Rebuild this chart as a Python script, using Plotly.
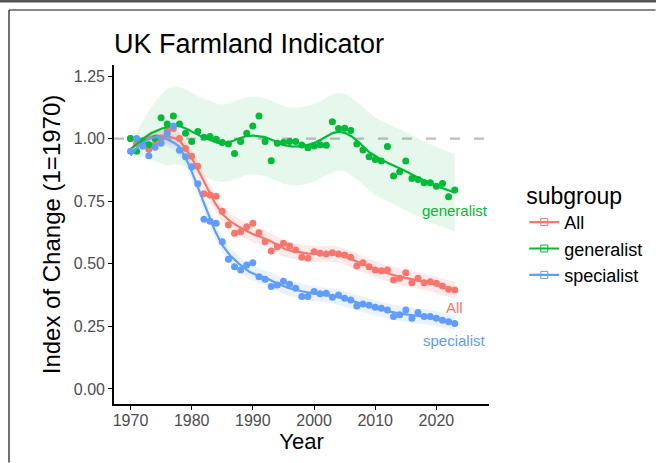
import numpy as np
import plotly.graph_objects as go

# ---------------- data ----------------
years = list(range(1970, 2024))

all_index = [1.00, 0.98, 0.97, 0.957, 0.975, 1.00, 1.03, 1.04, 1.00, 0.96,
             0.93, 0.89, 0.78, 0.775, 0.77, 0.71, 0.655, 0.622, 0.628, 0.648,
             0.662, 0.624, 0.588, 0.551, 0.568, 0.582, 0.571, 0.555, 0.526, 0.522,
             0.548, 0.542, 0.539, 0.544, 0.539, 0.535, 0.526, 0.491, 0.504, 0.488,
             0.475, 0.472, 0.475, 0.435, 0.442, 0.464, 0.424, 0.442, 0.424, 0.428,
             0.422, 0.411, 0.398, 0.395]

generalist_index = [1.00, 0.95, 0.99, 0.975, 1.00, 1.083, 1.058, 1.09, 1.058, 1.021,
                    0.988, 1.028, 1.005, 1.008, 0.997, 0.984, 0.978, 0.941, 0.988, 1.021,
                    1.05, 1.09, 0.988, 0.912, 0.981, 0.984, 0.988, 0.988, 0.974, 0.963,
                    0.97, 0.975, 0.973, 1.067, 1.04, 1.041, 1.032, 0.978, 0.955, 0.928,
                    0.917, 0.911, 0.968, 0.851, 0.868, 0.911, 0.841, 0.837, 0.824, 0.824,
                    0.81, 0.821, 0.768, 0.795]

specialist_index = [0.95, 1.00, 0.97, 0.932, 0.965, 0.981, 1.02, 1.05, 0.954, 0.928,
                    0.888, 0.82, 0.678, 0.67, 0.662, 0.588, 0.518, 0.488, 0.475, 0.495,
                    0.504, 0.448, 0.438, 0.409, 0.415, 0.43, 0.418, 0.402, 0.369, 0.369,
                    0.389, 0.38, 0.382, 0.366, 0.375, 0.362, 0.355, 0.331, 0.339, 0.334,
                    0.326, 0.322, 0.315, 0.289, 0.296, 0.315, 0.282, 0.305, 0.289, 0.289,
                    0.282, 0.275, 0.269, 0.262]

subgroups = ["All", "generalist", "specialist"]
series = {"All": all_index, "generalist": generalist_index, "specialist": specialist_index}
# half-width of the confidence ribbons
ribbon_halfwidth = {"All": 0.032, "generalist": 0.155, "specialist": 0.03}
ribbon_ramp_years = 6  # ribbons open up from zero width at the 1970 baseline
reference_level = 1.0

x_ticks = [1970, 1980, 1990, 2000, 2010, 2020]
y_ticks = [0.00, 0.25, 0.50, 0.75, 1.00, 1.25]
y_ticklabels = ["0.00", "0.25", "0.50", "0.75", "1.00", "1.25"]

# ---------------- styling ----------------
colors = {"All": "#F8766D", "generalist": "#00BA38", "specialist": "#619CFF"}
fills = {"All": "rgba(248,118,109,0.15)", "generalist": "rgba(0,186,56,0.10)",
         "specialist": "rgba(97,156,255,0.13)"}
FONT = "Liberation Sans, Arial, sans-serif"

W, H = 656, 463
M = dict(l=114, r=167, t=65, b=59)
PW, PH = W - M["l"] - M["r"], H - M["t"] - M["b"]


def px_to_paper(px, py):
    return (px - M["l"]) / PW, (H - M["b"] - py) / PH


def loess(x, y, xs, span=0.3, degree=2):
    x = np.asarray(x, float)
    y = np.asarray(y, float)
    q = int(np.ceil(span * len(x)))
    out = []
    for x0 in xs:
        d = np.abs(x - x0)
        h = np.sort(d)[q - 1] * 1.0001
        w = np.clip(1 - (d / h) ** 3, 0, None) ** 3
        idx = w > 0
        coef = np.polyfit(x[idx] - x0, y[idx], degree, w=np.sqrt(w[idx]))
        out.append(np.polyval(coef, 0.0))
    return np.array(out)


xs = np.linspace(years[0], years[-1], 300)
fits = {g: loess(years, series[g], xs) for g in subgroups}

fig = go.Figure()

# ribbons
for g in subgroups:
    fit = fits[g]
    ramp = np.clip((xs - years[0]) / ribbon_ramp_years, 0, 1) ** 0.7
    hw = ribbon_halfwidth[g] * ramp
    fig.add_trace(go.Scatter(
        x=np.concatenate([xs, xs[::-1]]),
        y=np.concatenate([fit + hw, (fit - hw)[::-1]]),
        fill="toself", fillcolor=fills[g], line=dict(width=0),
        mode="lines", hoverinfo="skip", showlegend=False))

# points and smooth lines
for g in subgroups:
    fit = fits[g]
    fig.add_trace(go.Scatter(
        x=years, y=series[g], mode="markers",
        marker=dict(color=colors[g], size=7),
        showlegend=False, name=g))
    fig.add_trace(go.Scatter(
        x=xs, y=fit, mode="lines", line=dict(color=colors[g], width=2.2),
        showlegend=False, hoverinfo="skip"))
    # legend entry
    fig.add_trace(go.Scatter(
        x=[None], y=[None], mode="lines+markers", name=g,
        line=dict(color=colors[g], width=2.2),
        marker=dict(color=colors[g], size=7, symbol="square-open")))
    # end label
    fig.add_annotation(
        x=years[-1], y=fit[-1] - 0.072, text=g, showarrow=False,
        font=dict(family=FONT, size=15, color=colors[g]),
        xanchor="center", yanchor="middle")

# reference dashed line
fig.add_shape(type="line", xref="paper", yref="y", x0=0, x1=1,
              y0=reference_level, y1=reference_level,
              line=dict(color="#BEBEBE", width=2.2, dash="10px,14px"),
              layer="below")

# outer frame lines seen around the picture
x0p, y0p = px_to_paper(9, 10)
x1p, _ = px_to_paper(W - 0.5, 0)
_, y1p = px_to_paper(0, H - 0.5)
fig.add_shape(type="line", xref="paper", yref="paper", x0=x0p, y0=y0p, x1=x1p, y1=y0p,
              line=dict(color="#111111", width=1.2), layer="above")
fig.add_shape(type="line", xref="paper", yref="paper", x0=x0p, y0=y0p, x1=x0p, y1=y1p,
              line=dict(color="#111111", width=1.2), layer="above")
tx0, ty = px_to_paper(0, 1.2)
tx1, _ = px_to_paper(W, 1.2)
fig.add_shape(type="line", xref="paper", yref="paper", x0=tx0, x1=tx1, y0=ty, y1=ty,
              line=dict(color="#555555", width=2.4), layer="above")

fig.update_layout(
    width=W, height=H, margin=dict(M, autoexpand=False),
    paper_bgcolor="white", plot_bgcolor="white",
    font=dict(family=FONT, color="#000000"),
    title=dict(text="UK Farmland Indicator", x=0, xref="paper", xanchor="left",
               y=1 - 44 / H, yref="container", yanchor="middle",
               font=dict(family=FONT, size=27, color="#000000")),
    xaxis=dict(range=[1967.3, 2028.6], tickvals=x_ticks, showgrid=False, zeroline=False,
               automargin=False,
               showline=True, linecolor="#000000", linewidth=1.6,
               ticks="outside", ticklen=4, tickcolor="#000000", tickwidth=1.2,
               ticklabelstandoff=-3,
               tickfont=dict(family=FONT, size=16, color="#4D4D4D"),
               title=dict(text="Year", font=dict(family=FONT, size=22, color="#000000"),
                          standoff=2)),
    yaxis=dict(range=[-0.06, 1.294], tickvals=y_ticks, ticktext=y_ticklabels,
               showgrid=False, zeroline=False, automargin=False,
               showline=True, linecolor="#000000", linewidth=1.6,
               ticks="outside", ticklen=4, tickcolor="#000000", tickwidth=1.2,
               tickfont=dict(family=FONT, size=16, color="#4D4D4D"),
               title=dict(text="Index of Change (1=1970)",
                          font=dict(family=FONT, size=24, color="#000000"), standoff=6)),
    legend=dict(x=1.094, y=px_to_paper(0, 174)[1], xanchor="left", yanchor="top",
                title=dict(text="subgroup", font=dict(family=FONT, size=23, color="#000000")),
                font=dict(family=FONT, size=18, color="#000000"),
                itemwidth=30, tracegroupgap=0, bgcolor="rgba(0,0,0,0)"),
    showlegend=True,
)

fig.write_html("out.html", config={"displayModeBar": False},
               post_script="document.body.style.margin='0';")
